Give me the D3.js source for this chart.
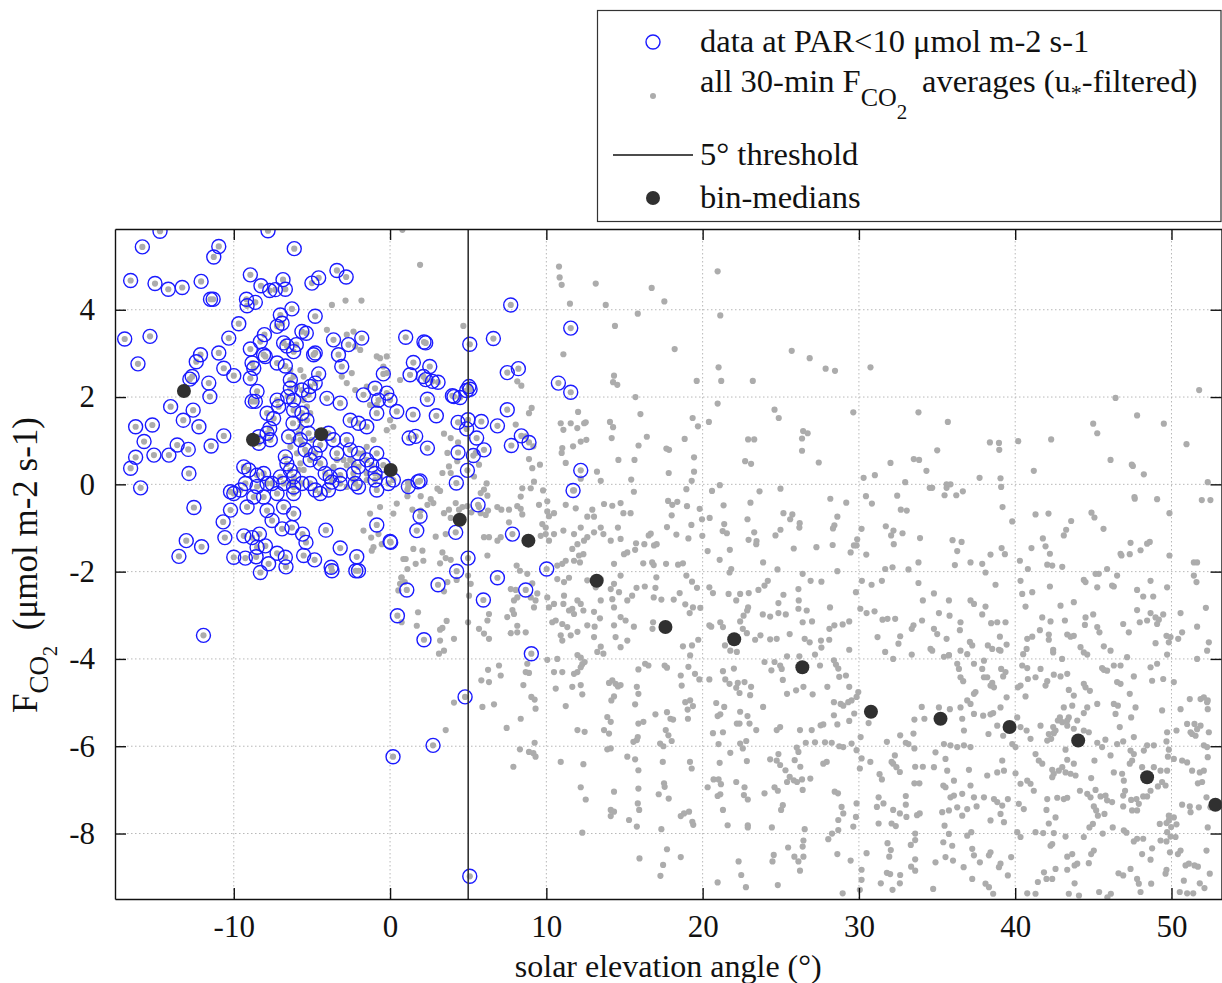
<!DOCTYPE html>
<html><head><meta charset="utf-8">
<script src="https://cdn.jsdelivr.net/npm/d3@7"></script>
<style>html,body{margin:0;padding:0;background:#fff;} svg{display:block;}</style>
</head><body>
<svg id="chart" width="1222" height="983"></svg>
<script>
// ---------------- DATA ----------------
const xTicks = [-10, 0, 10, 20, 30, 40, 50];
const yTicks = [-8, -6, -4, -2, 0, 2, 4];
const xDomain = [-17.6, 53.2];
const yDomain = [-9.5, 5.85];
const thresholdAngle = 5;

// bin medians
const binAngle = [-13.19,-8.77,-4.4,0.04,4.46,8.85,13.22,17.62,22.02,26.38,30.77,35.22,39.64,44.03,48.44,52.81];
const binFlux  = [2.14,1.02,1.15,0.33,-0.81,-1.29,-2.21,-3.27,-3.55,-4.19,-5.21,-5.37,-5.56,-5.87,-6.71,-7.34];

// data at PAR < 10 (blue circles) [angle, flux]
const lowPAR = [
[-14.72,5.8],[-7.81,5.81],[-15.85,5.44],[-10.96,5.45],[-11.28,5.21],[-6.13,5.40],[-16.6,4.67],[-15.04,4.6],[-14.19,4.47],[-13.3,4.51],[-12.09,4.65],[-11.49,4.24],[-11.32,4.24],[-8.94,4.8],[-8.26,4.55],[-7.7,4.44],[-7.34,4.46],[-6.85,4.69],[-6.7,4.47],[-9.19,4.24],[-8.62,4.17],[-9.15,4.09],[-5.0,4.61],[-4.57,4.73],[-3.4,4.9],[-2.81,4.75],
[-9.68,3.68],[-10.32,3.35],[-10.96,3.01],[-12.13,2.97],[-12.4,2.81],[-12.66,2.47],[-12.81,2.41],[-11.6,2.32],[-11.53,2.01],[-10.64,2.66],[-10.0,2.49],[-16.98,3.33],[-15.36,3.39],[-16.13,2.76],[-16.28,1.32],[-15.21,1.36],[-14.04,1.78],[-13.23,1.47],[-12.6,1.7],[-12.23,1.32],[-15.74,0.98],[-15.11,0.67],[-14.15,0.67],[-13.62,0.9],[-12.91,0.8],[-16.28,0.62],[-16.6,0.37],[-12.87,0.25],[-15.96,-0.08],[-11.45,0.88],[-10.64,1.11],[-12.55,-0.53],
[-8.94,3.1],[-8.3,3.27],[-8.09,2.97],[-7.98,2.93],[-8.83,2.78],[-8.72,2.66],[-8.94,2.43],[-8.51,2.13],[-8.62,1.9],[-8.83,1.9],[-8.04,3.43],[-7.23,3.62],[-7.02,3.88],[-6.91,3.69],[-6.28,4.02],[-5.64,3.5],[-5.36,3.46],[-4.79,3.85],[-4.89,2.97],[-4.79,3.01],[-6.81,3.24],[-6.6,3.17],[-6.17,3.04],[-6.0,3.2],[-3.62,3.31],[-3.3,2.97],[-3.09,2.7],[-2.66,3.2],[-1.81,3.35],
[-7.23,2.78],[-6.7,2.71],[-6.38,2.39],[-6.38,2.2],[-6.17,1.93],[-5.64,2.16],[-5.11,2.24],[-4.57,2.53],[-4.79,2.32],[-5.21,2.05],[-4.04,1.97],[-3.19,1.86],[-2.55,1.47],[-2.02,1.4],[-1.7,2.05],[-0.43,2.53],[-0.21,2.09],[0.0,1.93],[0.43,1.67],[-0.85,1.63],[-0.96,2.2],[-0.74,1.93],[-1.49,1.32],
[-7.87,1.63],[-7.45,1.51],[-7.7,1.28],[-7.87,1.17],[-8.4,1.09],[-8.4,0.94],[-7.66,1.02],[-7.23,1.93],[-7.13,1.78],[-6.55,2.01],[-6.17,1.7],[-6.21,1.4],[-6.49,1.09],[-6.7,0.63],[-6.6,0.47],[-6.38,0.32],[-6.17,0.17],
[-5.64,1.63],[-5.32,1.47],[-5.21,1.17],[-5.74,1.02],[-5.43,0.79],[-5.11,0.56],[-4.79,0.71],[-4.47,0.9],[-3.94,1.17],[-3.62,1.02],[-3.4,0.71],[-2.77,1.02],[-2.55,0.79],[-2.02,0.71],
[-4.47,0.48],[-4.15,0.25],[-3.83,0.17],[-3.72,0.05],[-3.19,0.21],[-2.34,0.25],[-2.02,0.4],[-1.49,0.56],[-1.17,0.44],[-0.85,0.71],[-0.43,0.44],[-0.96,0.25],[-0.11,0.02],[0.21,0.1],
[-9.36,0.4],[-9.04,0.33],[-8.51,0.21],[-8.09,0.25],[-7.87,0.02],[-8.51,-0.05],[-9.26,0.02],[-9.57,-0.13],[-10.0,-0.21],[-10.21,-0.17],[-8.72,-0.29],[-8.09,-0.29],[-7.55,0.02],[-7.02,0.17],[-6.81,0.02],[-7.23,-0.21],[-6.17,-0.06],[-6.17,-0.21],[-5.64,0.02],[-5.11,0.02],[-4.79,-0.13],[-4.47,-0.21],[-3.94,-0.13],[-3.19,0.02],[-2.23,0.02],[-2.02,-0.06],[-0.96,0.1],[-0.85,-0.13],
[-10.21,-0.59],[-9.15,-0.52],[-7.87,-0.6],[-6.81,-0.52],[-6.17,-0.67],
[1.0,3.37],[2.17,3.26],[2.28,3.24],[5.1,3.21],[6.61,3.34],[7.72,4.11],[11.56,3.58],[1.49,2.79],[2.54,2.70],[1.28,2.51],[2.13,2.47],[2.28,2.4],[3.07,2.34],[2.71,2.36],[2.39,1.95],[3.99,2.03],[4.09,2.01],[4.48,1.99],[5.05,2.24],[5.12,2.18],[4.9,2.15],[7.5,2.56],[8.21,2.65],[10.77,2.32],[11.56,2.11],
[1.47,1.6],[2.96,1.57],[4.35,1.42],[4.9,1.27],[4.99,1.48],[5.84,1.44],[6.87,1.34],[7.5,1.71],[8.4,1.11],[8.89,0.96],[7.76,0.89],[5.54,1.06],[6.01,0.79],[5.33,0.66],[4.35,0.73],[4.95,0.32],[4.24,0.03],[5.63,-0.47],[1.92,0.08],[1.79,0.06],[1.22,1.06],[1.64,1.1],[1.17,-0.05],[2.39,0.83],[12.2,0.32],[11.71,-0.14],[1.92,-0.73],
[1.71,-1.06],[0.04,-1.33],[4.2,-1.1],[7.83,-1.14],[4.99,-1.69],[4.26,-1.99],[3.07,-2.3],[1.07,-2.42],[6.87,-2.14],[5.97,-2.65],[8.68,-2.42],[10.02,-1.94],[0.47,-3.01],[2.17,-3.56],[9.04,-3.88],[4.8,-4.87],[2.75,-5.98],[0.19,-6.24],[5.1,-8.98],
[-10.68,-0.86],[-13.04,-1.29],[-12.06,-1.43],[-13.51,-1.65],[-10.57,-1.22],[-9.36,-1.18],[-8.83,-1.22],[-8.36,-1.14],[-10.0,-1.67],[-9.26,-1.69],[-8.57,-1.66],[-8.3,-2.02],[-7.77,-1.82],[-7.23,-1.58],[-6.7,-1.67],[-6.66,-1.89],[-7.98,-1.41],[-8.51,-1.44],[-5.6,-1.14],[-5.38,-1.33],[-5.53,-1.63],[-4.83,-1.73],[-6.91,-1.02],[-7.55,-0.83],[-6.28,-0.99],[-4.11,-1.05],[-3.19,-1.46],[-3.77,-1.9],[-3.72,-1.98],[-2.13,-1.66],[-2.02,-1.98],[-2.19,-1.98],[-0.85,-0.93],[0.0,-1.31],[-11.94,-3.46]
];

// all 30-min averages (grey dots) not already in lowPAR [angle, flux]
const allFluxLeft = [
[-3.72,4.11],[-2.85,4.21],[-1.83,4.21],[-4.04,3.54],[-2.77,3.43],[-2.34,3.5],[-2.23,3.16],[-1.91,3.08],[-0.85,2.93],[-0.64,2.89],[-0.21,2.93],[-0.43,2.7],[-0.21,2.55],
[-3.09,2.47],[-2.77,2.32],[-2.45,2.55],[-2.23,2.16],[-1.49,2.24],[-1.28,1.82],[-0.85,1.82],[0.0,1.47],[0.21,1.32],[-0.21,1.24],[-1.06,1.02],[-1.49,0.86],[-1.7,0.71],[-2.34,0.48],[-2.55,0.56],[-2.77,0.44],[-2.98,0.56],[-3.62,0.4],[-3.4,0.56],
[-2.77,-0.06],[-2.34,0.1],[-1.49,0.25],[-1.49,0.1],[-0.64,0.17],[0.43,-0.44],[0.21,-0.67],[-0.64,-0.52],[-1.28,-0.67],
[-5.74,2.62],[-5.96,2.24],[-5.53,1.93],[-5.74,1.47],[-5.74,1.32],[-6.17,1.02],[-5.96,0.71],[-5.74,0.48],[-5.85,0.33],[-6.38,0.02],
[-6.38,2.62],[-6.17,2.47],[-5.53,2.47],[-5.32,1.78],[-5.11,1.63],[-5.85,1.17],[-5.64,0.94],[-6.38,0.86],[-5.32,0.71],[-5.53,0.33],[-6.17,0.1],[-5.0,1.02],[0.64,2.39],
[-1.7,-1.06],[-1.21,-1.22],[-0.74,-1.14],[-1.06,-1.44],[-1.17,-1.52],[-0.53,-1.37],[0.85,-1.71],[0.74,-2.13],[0.64,-2.28],[0.53,-2.43],[0.74,-3.16]
];
const allFluxMid = [
[0.79,5.83],[1.92,5.03],[4.69,3.63],[10.81,4.99],[10.85,4.74],[10.98,4.57],[13.16,4.6],[11.51,4.14],[13.8,4.11],[14.39,3.63],[11.09,2.98],[14.33,2.49],[14.27,2.34],[14.54,2.28],[8.14,2.36],[8.4,2.26],
[12.03,1.66],[12.42,1.40],[12.52,1.42],[11.98,1.29],[10.92,1.40],[11.09,1.25],[11.56,1.40],[14.07,1.43],[14.27,1.31],[14.18,1.06],[14.61,0.56],[9.06,1.75],[8.89,1.63],
[8.04,1.37],[8.68,1.10],[9.17,0.87],[8.89,0.58],[9.1,0.37],[9.59,0.45],[9.79,-0.14],
[11.02,0.83],[10.98,0.72],[11.71,0.87],[11.24,0.49],[12.2,0.98],[12.56,1.02],[13.24,0.29],[13.48,0.08],[13.69,-0.45],[12.94,-0.58],[12.62,-0.74],[13.05,-0.74],[14.22,-0.49],[14.93,-0.66],[15.39,-0.66],[14.75,-0.43],
[12.2,0.13],[11.77,-0.14],[11.24,-0.47],[11.88,-0.55],[10.49,-0.66],[10.06,-0.62],[10.06,-0.39],[10.17,-0.73],[9.53,-0.47],
[8.46,-0.09],[8.36,-0.28],[9.0,-0.09],[9.21,0.06],[7.12,-0.58],[7.61,-0.58],[8.14,-0.5],[8.36,-0.56],[8.46,-0.69],
[6.18,0.02],[6.01,-0.12],[5.8,-0.2],[6.23,-0.26],[6.86,-0.52],[5.8,-0.66],[6.12,-0.7],[6.27,-0.6],[5.69,-0.52],
[4.2,-0.43],[4.63,-0.52],[4.41,-0.58],[4.95,-0.5],[5.2,-0.64],
[3.45,1.16],[3.88,1.06],[4.35,0.96],[3.67,0.72],[3.77,0.41],[4.3,0.53],[3.88,0.26],[3.35,0.26],[3.03,-0.1],[3.2,-0.15],[2.6,-0.34],[2.77,-0.43],[1.96,-0.27],[1.11,-0.27],[1.11,-0.12],[1.15,0.03],[1.43,-0.58],[1.96,-0.6],[2.39,-0.47],[3.45,-0.66],[3.77,-0.58],[3.88,-0.77],
[5.48,0.72],[5.69,0.45],[5.37,0.18],
[2.92,-1.2],[3.56,-1.14],[1.49,-1.48],[2.07,-1.52],[2.13,-1.75],[1.64,-1.82],[1.0,-1.71],[1.11,-1.94],[3.35,-1.56],[3.56,-1.69],[3.2,-1.81],[3.88,-1.73],[3.67,-2.24],[3.45,-2.45],[4.26,-2.19],[0.72,-2.14],[0.94,-2.24],[4.99,-2.09],[5.16,-2.28],[5.05,-2.55],
[6.23,-1.63],[6.01,-1.21],[6.33,-1.21],[6.87,-1.29],[7.08,-1.21],[7.61,-0.87],
[8.1,-1.86],[8.31,-1.98],[8.78,-2.05],[9.1,-2.27],[9.0,-2.59],[9.42,-2.5],[7.72,-2.4],[8.04,-2.42],[8.14,-2.59],[7.93,-2.66],[7.83,-2.88],[7.93,-2.97],[7.5,-3.04],[7.72,-3.41],[8.14,-3.39],[8.68,-3.39],[8.14,-3.24],
[6.33,-2.97],[6.23,-3.12],[5.69,-3.31],[6.01,-3.42],[6.33,-3.54],[1.79,-2.93],[1.71,-3.24],[3.2,-3.33],[3.35,-3.29],[3.2,-3.58],[3.45,-3.81],[3.13,-3.88],[3.62,-3.13],[4.09,-3.54],[4.99,-3.16],
[10.06,-2.59],[10.17,-2.82],[10.49,-2.74],[10.38,-3.16],[10.6,-3.12],[10.92,-3.46],[9.31,-2.66],[9.21,-2.82],
[10.06,-4.02],[10.7,-4.0],[10.49,-4.3],[10.6,-4.68],[11.02,-4.3],[11.24,-5.08],
[8.68,-4.3],[8.89,-4.32],[8.78,-4.11],[8.53,-4.6],[9.04,-4.87],[9.25,-4.93],[9.31,-5.14],[8.36,-5.37],[7.46,-5.58],[6.65,-5.04],[5.91,-5.1],[5.84,-4.49],[6.33,-4.53],[6.27,-4.25],[6.97,-4.15],[7.08,-4.38],
[4.09,-5.0],[3.56,-5.63],[8.31,-6.07],[8.89,-6.13],[9.25,-5.92],[9.31,-6.24],[9.17,-6.16],[7.89,-6.47],
[10.92,-6.36],[11.99,-5.63],[12.45,-5.67],[12.37,-6.41],[12.2,-6.94],[12.52,-7.22],[12.3,-7.98],
[11.66,-4.64],[11.77,-4.34],[11.99,-4.3],[12.2,-4.19],[12.2,-4.6],[12.3,-4.81],
[11.99,-3.91],[12.2,-3.97],[12.3,-4.12],[12.45,-4.07],[11.99,-3.38],[12.62,-3.23],[13.05,-2.92],[13.43,-3.07],[13.09,-3.26],[13.48,-3.72],[13.65,-3.88],[14.01,-4.55],[14.22,-4.49],[14.43,-4.57],[14.58,-4.63],[14.75,-4.6],[14.16,-4.95],[14.33,-4.86],[13.9,-5.33],[14.12,-5.44],[13.69,-5.63],[14.01,-5.71],[14.12,-6.05],[13.9,-6.07],[14.33,-7.04],[14.12,-7.46],[14.12,-7.6],[14.33,-7.5],[15.29,-7.69],[15.18,-6.24],
[11.24,-1.75],[11.77,-1.75],[12.15,-1.79],[12.09,-1.63],[11.66,-1.48],[11.99,-1.37],[12.41,-1.29],[12.62,-1.21],[12.37,-1.6],
[11.02,-1.82],[10.7,-1.86],[10.7,-2.17],[11.13,-2.24],[11.13,-2.55],[11.45,-2.14],
[9.96,-1.14],[9.64,-1.18],[9.96,-0.99],[10.17,-1.29],[9.74,-0.91],[10.49,-1.14],[11.09,-1.06],[11.77,-1.14],[12.2,-0.99],
[13.05,-1.1],[13.48,-0.99],[13.65,-1.14],[14.12,-1.29],[14.58,-0.99],[14.75,-1.25],[14.97,-1.6],[15.18,-1.56],[14.33,-1.82],[14.75,-2.09],[14.33,-2.28],[14.65,-2.47],[14.12,-2.4],[14.22,-2.63],[14.33,-2.82],[15.18,-2.66],[14.75,-3.04],[14.33,-3.23],[14.43,-3.5],[15.07,-3.12],[15.18,-3.58],[14.75,-3.73],
[12.62,-2.2],[13.05,-2.17],[13.48,-2.17],[13.16,-2.36],[13.48,-2.66],[11.99,-2.66],[12.2,-2.74],[12.37,-2.89],[13.05,-3.5],[13.26,-3.84],
[11.09,-2.74],[11.45,-2.89],[11.66,-2.85],[11.77,-2.97],[11.02,-3.2],[11.34,-3.27],[11.56,-3.46],[11.02,-3.58]
];
const allFluxRightA = [
[20.96,4.88],[16.74,4.5],[17.55,4.19],[15.85,3.91],[21.13,3.87],[18.21,3.10],[25.7,3.06],[26.85,2.89],[27.87,2.65],[28.47,2.60],[30.74,2.68],[21.02,2.68],[21.19,2.37],[23.21,2.37],[19.62,2.37],[15.70,2.0],[20.96,1.85],[16.02,1.61],[24.6,1.71],[24.87,1.52],[29.64,1.65],[33.81,1.65],[19.36,1.52],[20.4,1.43],[19.7,1.33],[16.43,1.09],[18.85,1.04],[22.91,1.03],[23.3,1.03],[26.43,1.22],[26.72,1.17],[26.36,1.05],[26.36,0.77],[15.9,0.89],[17.68,0.82],[17.85,0.79],[15.64,0.56],[19.45,0.62],[22.72,0.53],[23.1,0.47],[27.43,0.50],[32.02,0.49],[33.51,0.58],[33.85,0.56],[34.32,0.31],[17.83,0.26],[19.45,0.29],[19.3,0.08],[15.43,0.11],[30.3,0.15],[31.02,0.21],[32.96,0.05],
[15.6,-0.17],[18.96,-0.11],[20.6,-0.15],[21.1,-0.02],[23.64,-0.16],[24.98,-0.1],[34.53,-0.08],[17.79,-0.38],[18.06,-0.47],[18.38,-0.40],[19.0,-0.5],[19.81,-0.56],[21.34,-0.48],[23.06,-0.42],[28.17,-0.33],[29.19,-0.42],[30.45,-0.27],[30.83,-0.44],[32.45,-0.26],[32.68,-0.58],[33.06,-0.60],[18.02,-0.71],[19.96,-0.80],[20.45,-0.77],[22.87,-0.80],[25.17,-0.66],[25.74,-0.69],[25.6,-0.80],[26.21,-0.89],[26.19,-0.99],[28.62,-0.74],[28.43,-0.94],[28.34,-1.01],[17.72,-0.98],[19.28,-0.93],[21.38,-0.91],[21.28,-1.07],[21.55,-1.12],[23.3,-1.10],[24.98,-1.04],[24.66,-1.17],[30.17,-1.02],[31.72,-0.96],[32.21,-1.06],[32.06,-1.17],[32.79,-1.12],[33.91,-1.23],[16.55,-1.17],[16.68,-1.13],[18.32,-1.15],[19.09,-1.24],[19.98,-1.18],[22.94,-1.27],[23.45,-1.30],[23.43,-1.37],[15.74,-1.35],[16.27,-1.37],[16.89,-1.40],[17.06,-1.37],[29.89,-1.26],[29.85,-1.40],[29.68,-1.40],[28.32,-1.39],[27.28,-1.44],[25.83,-1.47],[32.23,-1.37],[20.32,-1.53],[21.74,-1.50],[15.68,-1.50],[29.47,-1.56],[30.47,-1.61]
];
const allFluxRightB = [
[16.2,-1.81],[16.77,-1.79],[16.87,-1.85],[17.66,-1.82],[18.43,-1.84],[18.74,-1.81],[21.09,-1.73],[21.72,-2.02],[21.83,-1.94],[23.87,-1.79],[24.79,-1.95],[26.4,-2.05],[26.91,-2.21],[27.6,-2.23],[28.62,-1.99],[31.68,-1.94],[32.15,-1.9],[33.17,-1.95],[33.81,-1.79],[30.19,-2.21],[30.81,-2.30],[31.47,-2.21],[33.81,-2.26],[15.49,-2.55],[15.77,-2.37],[16.3,-2.34],[17.04,-2.13],[16.98,-2.37],[16.87,-2.59],[17.36,-2.64],[18.15,-2.64],[18.53,-2.49],[18.96,-2.09],[19.32,-2.23],[19.64,-2.37],[18.89,-2.75],[19.38,-2.82],[19.17,-2.95],[19.85,-2.83],[15.6,-3.26],[16.83,-3.16],[16.79,-3.31],
[18.74,-3.71],[19.32,-3.69],[19.2,-3.92],[19.72,-3.56],[20.43,-2.36],[20.66,-2.49],[20.55,-3.26],[20.43,-3.23],[21.13,-3.16],[21.3,-3.27],[21.66,-2.51],[22.15,-2.66],[22.4,-2.51],[22.95,-2.49],[23.57,-2.42],[23.96,-2.32],[24.17,-2.21],[22.62,-3.01],[22.85,-2.89],[22.91,-2.82],[22.4,-3.14],[22.57,-3.31],[22.83,-3.41],[23.36,-3.56],[21.43,-3.69],[21.77,-3.81],[22.19,-3.84],[23.85,-2.98],[24.32,-3.03],[24.85,-2.95],[25.32,-2.98],[24.85,-2.72],[25.17,-2.53],[26.13,-2.40],[26.15,-2.66],[26.13,-2.85],[26.66,-2.89],[26.4,-3.16],[27.0,-3.14],[27.57,-3.58],[28.1,-3.56],[28.15,-2.82],[28.43,-3.23],[28.96,-3.21],[29.38,-3.14],[28.11,-3.31],[29.38,-3.79],[29.81,-2.47],[30.09,-2.85],[30.49,-2.95],[31.0,-2.91],[31.51,-3.1],[31.83,-3.08],[32.32,-3.08],[31.19,-3.5],[32.64,-3.48],[32.53,-3.65],[33.49,-3.23],[33.38,-3.31],[34.04,-3.12],[31.68,-3.84],[32.19,-4.0],[33.38,-3.9],[34.09,-2.66],[24.32,-3.55],[24.74,-3.54],[25.57,-3.43],[26.53,-3.54],[26.85,-3.62],[27.6,-3.74],[27.19,-3.9],[26.19,-3.94],[25.4,-3.94],[23.7,-3.46],[23.96,-4.07],[24.6,-4.07],[24.96,-4.15],[25.06,-4.23],[24.4,-4.26],[25.13,-4.48],[25.4,-4.8],[25.98,-4.72],[26.45,-4.64],
[27.04,-4.81],[27.51,-4.15],[27.98,-4.64],[28.4,-4.03],[28.53,-4.13],[28.68,-4.22],[28.74,-4.41],[29.17,-4.38],[29.38,-4.64],[28.4,-4.99],[28.83,-5.03],[29.0,-5.07],[29.32,-4.99],[29.53,-4.95],[29.85,-4.87],[29.96,-4.76],[29.38,-5.42],[29.7,-5.25],[28.4,-5.29],[28.62,-5.5],[27.72,-5.5],[27.55,-5.52],[26.98,-5.63],[26.23,-5.63],[26.6,-5.92],[27.19,-5.91],[27.83,-5.91],[28.26,-5.92],[28.74,-6.0],[29.0,-6.02],[29.53,-5.94],[29.85,-6.09],[30.11,-5.79],[30.17,-6.28],[30.06,-6.51],[30.62,-5.47],[30.73,-6.36],[31.32,-6.64],[31.47,-6.76],[31.26,-7.17],[31.57,-7.31],[31.15,-7.39],[32.19,-6.40],[32.4,-6.48],[32.62,-6.59],[32.09,-6.36],[32.3,-6.21],[31.79,-5.9],[32.64,-5.75],[33.0,-5.92],[33.17,-5.95],[33.49,-5.71],[33.55,-6.05],[34.02,-5.1],[33.55,-5.39],[34.19,-5.37],[33.6,-6.47],[34.09,-6.47],[33.55,-6.85],[33.87,-6.85],[33.0,-7.14],[33.0,-7.34],[32.62,-7.54],[33.04,-7.62],[33.72,-7.58],[33.89,-7.54],[32.19,-7.46],[32.09,-7.77],[32.36,-7.83],[31.26,-7.77],[33.6,-8.0],[33.32,-8.26],[33.6,-8.15],[33.6,-8.59],[33.34,-8.76],[33.6,-8.85],[32.62,-9.14],[31.83,-8.22],[32.04,-8.38],[31.94,-8.53],[31.79,-8.9],[32.0,-8.93],[32.64,-8.95],[32.15,-9.29],[31.4,-9.14],[30.17,-9.06],[30.06,-9.29],[30.49,-8.45],[30.17,-8.83],[28.96,-9.37],[28.28,-8.0],[28.68,-7.92],[28.04,-8.13],[28.62,-8.47],[29.47,-8.62],[26.45,-8.16],[26.4,-8.3],[26.45,-8.53],[26.23,-8.85],[26.13,-8.64],[25.87,-8.53],[26.53,-7.9],[25.47,-8.32],[24.55,-8.49],[24.47,-8.64],[24.81,-9.18],[22.47,-8.95],[22.77,-9.23],[22.3,-8.64],[20.96,-9.12],[22.89,-7.81],[22.89,-7.86],[21.6,-7.81],[24.43,-7.86],[21.3,-7.46],
[20.32,-6.94],[20.7,-6.76],[21.02,-6.76],[21.17,-6.87],[20.96,-7.14],[21.13,-7.1],[22.15,-6.82],[22.68,-6.94],[22.64,-7.12],[22.89,-7.22],[23.96,-7.08],[24.6,-6.94],[24.81,-7.02],[25.13,-7.35],[25.02,-7.46],[25.3,-6.55],[25.57,-6.7],[25.4,-6.82],[25.83,-6.78],[26.04,-6.82],[26.36,-6.76],[26.89,-6.74],[25.89,-6.32],[26.25,-6.47],[26.13,-6.13],[24.32,-6.3],[24.74,-6.33],[24.85,-6.18],[24.96,-6.43],[26.02,-6.03],[26.4,-7.0],[28.45,-7.04],[28.66,-7.08],[27.72,-6.4],[27.94,-6.36],[28.89,-7.39],[29.0,-7.54],[28.68,-7.69],[29.85,-7.31],[29.81,-7.62],[29.64,-7.84],
[23.87,-5.1],[24.74,-5.63],[24.96,-5.56],[23.43,-5.63],[23.0,-5.48],[22.4,-5.21],[22.87,-5.31],[22.36,-5.48],[22.19,-5.48],[20.66,-5.7],[21.3,-5.68],[20.96,-5.31],[21.38,-5.1],[20.87,-5.01],[21.13,-5.27],[22.25,-4.55],[22.68,-4.53],[23.1,-4.64],[23.04,-4.83],[22.36,-4.78],[21.02,-5.95],[21.77,-6.15],[22.4,-5.94],[22.57,-6.05],[22.79,-5.88],[22.83,-6.34],[21.09,-6.38],[20.43,-4.47],[21.45,-4.47],[21.3,-4.28],[22.0,-4.22],[21.72,-4.57],[22.15,-4.66],[19.79,-4.47],[19.51,-4.34],[19.09,-4.18],[18.66,-4.61],[18.6,-4.38],[18.89,-4.99],[19.2,-4.95],[19.38,-5.08],[19.04,-5.16],[19.06,-5.37],[16.98,-5.27],[17.72,-5.22],[17.94,-5.37],[18.11,-5.39],[15.89,-5.48],[16.21,-5.44],[15.79,-5.86],[15.57,-5.9],[15.85,-5.79],[17.28,-5.94],[17.49,-6.0],[17.64,-5.63],[17.81,-5.75],[18.02,-5.88],[15.79,-4.64],[15.89,-4.8],[15.68,-5.04],[16.32,-4.11],[16.53,-4.15],[15.89,-4.24],[17.57,-4.15],[17.72,-4.2],[15.68,-6.3],[15.89,-6.55],[17.45,-6.36],[19.19,-6.36],[19.3,-6.51],[15.89,-6.97],[15.85,-7.31],[15.94,-7.46],[15.79,-7.84],[17.19,-7.1],[17.53,-6.85],[17.57,-6.93],[17.83,-7.2],[18.6,-7.6],[18.81,-7.54],[19.13,-7.5],[19.34,-7.73],[19.4,-7.8],[17.36,-7.9],[15.96,-8.57],[17.72,-8.36],[17.47,-8.72],[17.3,-8.97],[18.6,-8.54]
];
const allFluxRightC = [
[35.69,1.43],[35.01,0.78],[38.38,0.96],[38.96,0.95],[38.98,0.79],[40.19,0.99],[42.3,1.03],[41.19,0.31],[37.72,0.15],[39.06,0.14],[39.1,-0.06],[34.69,-0.08],[35.61,0.0],[35.61,-0.08],[35.86,0.0],[35.48,-0.25],[36.23,-0.25],[36.65,-0.16],[39.19,-0.52],[39.81,-0.85],[35.99,-1.28],[36.57,-1.32],[36.29,-1.53],[39.13,-1.46],[39.34,-1.6],[38.42,-1.61],[46.42,1.98],[44.99,1.39],[45.25,1.17],[47.8,1.58],[49.51,1.39],[51.77,2.16],[50.96,0.92],[46.1,0.56],[47.46,0.45],[47.53,0.42],[48.23,0.23],[52.32,0.05],[51.94,-0.36],[52.49,-0.36],[47.63,-0.29],[47.65,-0.33],[49.08,-0.34],[49.87,-0.66],[41.3,-0.69],[42.13,-0.67],[43.58,-0.84],[43.26,-1.04],[43.11,-1.17],[44.88,-0.65],[45.07,-0.76],[45.65,-1.02],[41.77,-1.24],[41.94,-1.42],[41.04,-1.46],[42.22,-1.59],[46.74,-1.59],[46.8,-1.63],[47.33,-1.6],[47.38,-1.34],[48.02,-1.51],[48.44,-1.36],[48.61,-1.32],[49.87,-1.63],
[36.14,-1.85],[37.14,-1.79],[37.89,-1.82],[38.1,-2.02],[40.3,-1.75],[40.81,-1.94],[42.05,-1.84],[42.37,-1.86],[43.01,-1.89],[45.14,-2.05],[45.35,-2.05],[44.39,-2.19],[44.5,-2.24],[45.88,-1.94],[46.52,-2.09],[46.2,-2.32],[45.25,-2.36],[47.8,-2.42],[48.19,-2.57],[48.83,-2.57],[48.66,-2.21],[49.72,-2.36],[51.43,-1.79],[51.64,-1.79],[51.43,-2.09],[51.6,-2.24],[52.2,-2.83],[51.64,-3.26],[52.39,-3.62],[52.28,-3.81],[50.58,-2.95],[38.74,-2.3],[37.14,-2.66],[37.36,-2.74],[37.89,-2.98],[38.1,-2.8],[35.76,-2.66],[35.8,-3.01],[36.5,-3.16],[36.46,-3.34],[35.12,-2.95],[34.8,-3.31],[35.01,-3.43],[35.61,-3.54],[34.69,-3.81],[34.58,-3.77],[40.66,-2.8],[40.45,-2.51],[40.34,-2.21],[41.09,-2.47],
[38.46,-3.18],[38.85,-3.16],[39.38,-3.16],[39.02,-3.49],[39.45,-3.67],[38.96,-3.79],[38.25,-3.69],[37.25,-3.69],[37.1,-3.61],[36.5,-3.81],[35.76,-3.91],[40.77,-3.54],[41.09,-3.49],[41.58,-3.34],[42.15,-3.44],[42.15,-3.56],[42.43,-3.79],[42.43,-3.85],[43.0,-4.0],[42.22,-2.34],[42.9,-2.78],[43.75,-2.7],[41.73,-3.05],[42.26,-3.14],[43.18,-3.12],[43.33,-3.44],[43.54,-3.49],[43.75,-3.47],[44.5,-3.05],[44.99,-2.98],[44.46,-3.22],[45.39,-3.39],[45.25,-3.27],[45.67,-3.71],[46.1,-3.81],[44.18,-3.73],[44.39,-3.85],[44.61,-3.9],[46.31,-2.34],[46.91,-3.2],[47.97,-3.16],[48.44,-3.12],[48.98,-3.05],[49.47,-2.98],[49.19,-3.1],[49.08,-3.2],[47.8,-2.88],[48.66,-2.95],[47.27,-3.39],[48.98,-3.64],[49.94,-3.5],[49.83,-3.62],[49.72,-3.9],[50.43,-3.54],[50.68,-3.39],[49.68,-3.47],
[47.16,-3.96],[48.76,-4.5],[48.66,-4.19],[49.08,-4.11],[49.47,-4.46],[50.15,-4.53],[47.59,-4.4],[46.74,-4.15],[46.31,-4.15],[45.88,-4.27],[45.67,-4.25],[45.56,-4.21],[46.52,-4.53],[46.74,-4.57],[51.64,-4.0],[51.86,-4.92],[52.07,-4.88],[52.28,-4.99],[52.32,-4.95],[52.32,-5.15],[51.17,-4.92],[50.58,-5.15],[51.0,-5.49],[51.47,-5.49],[51.86,-5.53],[51.22,-5.68],[51.32,-5.72],[51.64,-5.61],[51.54,-5.76],[52.39,-5.68],[52.07,-5.98],[52.28,-6.02],[52.32,-6.25],
[50.32,-5.64],[49.72,-5.68],[49.68,-5.89],[49.83,-6.08],[49.77,-6.24],[49.72,-6.56],[49.62,-6.9],[49.4,-6.82],[50.15,-6.29],[50.68,-6.33],[51.0,-6.37],[51.32,-6.56],[51.81,-6.6],[52.07,-6.56],[51.96,-6.82],[51.69,-6.85],[52.24,-7.17],[52.49,-7.4],[52.32,-7.86],[50.68,-7.34],[51.17,-7.38],[51.22,-7.51],[51.75,-7.4],[49.83,-7.59],[50.15,-7.63],[49.83,-7.7],[50.32,-7.79],[49.98,-7.85],[49.68,-7.76],[49.25,-7.78],[49.72,-7.97],
[49.3,-8.16],[49.68,-8.18],[49.94,-8.07],[50.26,-8.08],[49.9,-8.43],[50.41,-8.47],[50.58,-8.39],[50.9,-8.73],[51.11,-8.69],[51.47,-8.73],[51.69,-8.76],[52.24,-8.39],[52.45,-8.92],[51.81,-9.14],[52.11,-9.25],[50.79,-9.08],[50.53,-9.34],[51.39,-9.37],[51.0,-9.37],[49.62,-8.92],[49.68,-8.83],[48.7,-9.15],[48.66,-8.6]
];
const allFluxRightD = [
[48.23,-6.1],[48.44,-5.98],[48.87,-5.98],[47.38,-6.1],[47.59,-6.18],[47.48,-6.33],[47.33,-6.4],[48.12,-6.48],[48.87,-6.48],[49.3,-6.56],[49.13,-6.92],[48.66,-7.02],
[46.95,-6.79],[46.84,-6.63],[46.31,-6.6],[46.1,-6.21],[45.56,-6.02],[45.77,-5.85],[45.25,-5.92],[44.71,-5.68],[44.39,-5.64],[43.75,-5.6],[43.33,-5.53],[42.58,-5.64],[42.73,-5.41],[43.01,-5.45],[42.43,-5.56],[42.15,-5.72],[42.05,-5.87],[42.3,-5.83],[42.47,-5.7],[46.52,-5.95],[46.91,-5.89],[46.69,-5.56],[47.59,-5.79],
[47.7,-5.11],[47.33,-4.8],[46.57,-5.07],[46.31,-5.03],[46.42,-5.26],[47.42,-5.34],[49.4,-5.18],[45.25,-5.03],[44.61,-5.11],[44.39,-5.24],[43.65,-5.07],[43.11,-5.11],[43.43,-5.34],[43.33,-5.41],[43.97,-5.41],[42.86,-5.34],[43.43,-4.71],[43.75,-4.84],[44.39,-4.57],[44.5,-4.65],[44.78,-4.73],
[43.33,-4.34],[42.9,-4.4],[42.47,-4.36],[42.05,-4.51],[41.94,-4.61],[41.62,-4.23],[41.3,-4.42],[40.81,-4.46],[40.77,-4.21],[40.45,-4.15],[40.51,-3.89],[40.73,-3.77],[40.34,-4.61],[40.17,-4.65],[40.66,-4.86],
[40.13,-5.34],[40.34,-5.56],[40.73,-5.64],[40.98,-5.83],[41.62,-5.53],[41.3,-6.18],[41.51,-6.33],[41.73,-6.4],[40.77,-6.79],[41.19,-7.02],[40.98,-6.86],[42.05,-7.21],[42.0,-7.46],[42.58,-7.63],[42.15,-7.77],[42.69,-7.18],[43.11,-7.21],[43.33,-7.18],
[43.01,-6.48],[43.22,-6.6],[43.54,-6.63],[43.33,-6.31],[43.75,-6.4],[43.86,-6.67],[43.22,-6.08],[42.79,-6.56],[42.47,-6.63],[42.37,-6.71],[42.37,-6.54],[44.14,-7.02],[44.61,-7.09],[44.82,-7.17],[45.07,-6.33],[44.86,-6.73],[45.14,-7.0],[45.46,-7.15],[45.78,-7.13],[45.88,-7.24],[46.2,-7.28],[45.03,-7.38],[45.18,-7.47],[45.71,-7.55],[44.75,-7.86],[44.97,-7.78],[45.29,-7.59],[45.6,-8.0],[46.24,-7.86],
[46.91,-7.38],[47.48,-7.47],[47.8,-7.47],[47.91,-7.32],[47.03,-7.02],[46.91,-7.13],[47.42,-7.23],[47.76,-7.21],[48.19,-7.15],[48.44,-7.15],
[46.95,-7.93],[47.12,-7.98],[47.8,-8.12],[47.59,-8.18],[48.19,-8.12],[48.12,-8.47],[48.76,-8.34],[47.38,-8.81],[47.8,-9.04],[47.91,-9.15],[48.02,-9.34],[46.91,-8.96],[46.61,-8.91],[46.12,-9.38],[45.9,-9.46],[45.37,-9.34],[44.08,-9.42],[43.43,-9.38],[43.8,-9.14],[43.33,-8.83],[42.58,-8.81],[42.37,-9.04],[42.0,-9.04],[41.84,-8.89],[41.45,-9.11],[40.77,-9.37],[41.3,-9.38],[42.26,-8.28],[42.37,-8.24],[43.33,-8.53],[43.65,-8.47],[43.8,-8.73],[43.97,-8.69],[44.71,-8.68],[44.86,-8.47],[45.03,-8.39],[44.39,-8.08],[43.22,-8.07],[42.47,-7.99],[41.3,-7.97],[41.79,-7.99],[40.13,-7.97],[39.74,-8.54],[40.34,-8.08],
[34.8,-2.5],[35.44,-3.95],[35.76,-3.92],[36.29,-4.11],[36.4,-4.23],[36.5,-4.42],[36.67,-4.51],[36.93,-3.89],[37.36,-4.11],[38.0,-4.42],[38.42,-4.61],[38.64,-4.65],[37.36,-4.8],[37.46,-4.76],[36.93,-4.95],[37.14,-5.03],[36.5,-5.11],[35.82,-5.15],[35.12,-5.11],[36.61,-5.37],[36.72,-5.64],[37.36,-5.26],[37.95,-5.3],[38.42,-5.27],[38.59,-5.24],[39.06,-5.11],[39.45,-4.88],[38.29,-5.72],[38.85,-5.53],[39.23,-5.76],
[39.1,-4.23],[39.23,-4.4],[39.38,-4.3],[38.53,-4.55],[38.21,-4.42],[37.89,-4.23],[38.0,-4.04],[38.53,-3.77],[39.06,-3.81],
[35.44,-5.95],[35.86,-5.98],[36.29,-6.02],[36.72,-5.98],[37.14,-6.02],[34.9,-6.14],[35.54,-6.29],[35.65,-6.56],[34.8,-6.48],[37.04,-6.54],[38.21,-6.67],[38.85,-6.6],[39.17,-6.33],[39.28,-6.56],[35.4,-6.9],[35.54,-6.94],[36.08,-6.79],[35.86,-7.17],[36.08,-7.13],[36.61,-7.09],[37.36,-7.17],[37.14,-6.9],[38.0,-7.17],[38.64,-7.21],[38.85,-7.28],[39.17,-7.36],[39.53,-7.21],[39.06,-7.55],[39.28,-7.74],[38.42,-7.7],[37.53,-7.38],[36.93,-7.44],[36.29,-7.4],[35.76,-7.47],[35.33,-7.51],[35.48,-7.82],[36.61,-7.59],[37.19,-7.97],[36.93,-8.05],[35.76,-8.01],[35.4,-8.2],[35.97,-8.28],[34.9,-8.66],[35.54,-8.54],[36.02,-8.62],[36.7,-8.77],[37.25,-8.35],[37.36,-8.5],[37.74,-8.66],[38.32,-8.5],[38.42,-8.43],[39.06,-8.69],[38.96,-8.77],[39.53,-8.96],[37.25,-9.04],[38.1,-9.15],[38.32,-9.23],[38.59,-9.38],[34.75,-9.27],
[39.81,-5.95],[40.02,-6.02],[40.02,-6.62],[40.34,-6.86],[40.23,-7.32],[40.55,-7.44]
];

// ---------------- CHART ----------------
const svg = d3.select('#chart');
const FONT = "'Liberation Serif','Times New Roman',serif";
const plot = {left: 115, right: 1221.5, top: 229, bottom: 899};

const x = d3.scaleLinear().domain(xDomain).range([plot.left, plot.right]);
const y = d3.scaleLinear().domain(yDomain).range([plot.bottom, plot.top]);

svg.append('rect').attr('width',1222).attr('height',983).attr('fill','#fff');

svg.append('defs').append('clipPath').attr('id','clip')
  .append('rect').attr('x',plot.left).attr('y',plot.top)
  .attr('width',plot.right-plot.left).attr('height',plot.bottom-plot.top);

// grid
const grid = svg.append('g');
grid.selectAll('line.gx').data(xTicks).join('line')
  .attr('x1',d=>x(d)).attr('x2',d=>x(d)).attr('y1',plot.top).attr('y2',plot.bottom)
  .attr('stroke','#b8b8b8').attr('stroke-width',1).attr('stroke-dasharray','1.5,2.5');
grid.selectAll('line.gy').data(yTicks).join('line')
  .attr('y1',d=>y(d)).attr('y2',d=>y(d)).attr('x1',plot.left).attr('x2',plot.right)
  .attr('stroke','#b8b8b8').attr('stroke-width',1).attr('stroke-dasharray','1.5,2.5');

const pts = svg.append('g').attr('clip-path','url(#clip)');
const greyAll = [].concat(allFluxLeft, allFluxMid, allFluxRightA, allFluxRightB, allFluxRightC, allFluxRightD, lowPAR);
pts.selectAll('circle.grey').data(greyAll).join('circle')
  .attr('cx',d=>x(d[0])).attr('cy',d=>y(d[1])).attr('r',3.1).attr('fill','#acacac');

pts.selectAll('circle.blue').data(lowPAR).join('circle')
  .attr('cx',d=>x(d[0])).attr('cy',d=>y(d[1])).attr('r',7)
  .attr('fill','none').attr('stroke','#1a1aff').attr('stroke-width',1.4);

// threshold line
svg.append('line').attr('x1',x(thresholdAngle)).attr('x2',x(thresholdAngle))
  .attr('y1',plot.top).attr('y2',plot.bottom).attr('stroke','#333').attr('stroke-width',1.6);

// bin medians
const medians = binAngle.map((a,i)=>[a,binFlux[i]]);
pts.selectAll('circle.med').data(medians).join('circle')
  .attr('cx',d=>x(d[0])).attr('cy',d=>y(d[1])).attr('r',7).attr('fill','#303030');

// axes
const axG = svg.append('g').attr('font-family',FONT);
const tickLen = 11;
const axBottom = d3.axisBottom(x).tickValues(xTicks).tickSizeInner(-tickLen).tickSizeOuter(0).tickPadding(16).tickFormat(d3.format('d'));
const axTop = d3.axisTop(x).tickValues(xTicks).tickSizeInner(-tickLen).tickSizeOuter(0).tickFormat('');
const axLeft = d3.axisLeft(y).tickValues(yTicks).tickSizeInner(-tickLen).tickSizeOuter(0).tickPadding(20).tickFormat(d3.format('d'));
const axRight = d3.axisRight(y).tickValues(yTicks).tickSizeInner(-tickLen).tickSizeOuter(0).tickFormat('');

function style(g){
  g.select('.domain').attr('stroke','#111').attr('stroke-width',1.4);
  g.selectAll('.tick line').attr('stroke','#111').attr('stroke-width',1.4);
  g.selectAll('.tick text').attr('fill','#111').attr('font-size',31).attr('font-family',FONT);
}
axG.append('g').attr('transform',`translate(0,${plot.bottom})`).call(axBottom).call(style);
axG.append('g').attr('transform',`translate(0,${plot.top})`).call(axTop).call(style);
axG.append('g').attr('transform',`translate(${plot.left},0)`).call(axLeft).call(style);
axG.append('g').attr('transform',`translate(${plot.right},0)`).call(axRight).call(style);
axG.selectAll('.tick text').text(function(){ return this.textContent.replace('\u2212','-'); });

// axis titles
svg.append('text').attr('x',(plot.left+plot.right)/2).attr('y',977)
  .attr('text-anchor','middle').attr('font-family',FONT).attr('font-size',32).attr('fill','#111')
  .text('solar elevation angle (\u00b0)');

const yl = svg.append('text').attr('transform','translate(37,565) rotate(-90)')
  .attr('text-anchor','middle').attr('font-family',FONT).attr('font-size',35).attr('fill','#111');
yl.append('tspan').text('F');
yl.append('tspan').attr('font-size',27).attr('dy',11).text('CO');
yl.append('tspan').attr('font-size',20).attr('dy',9).text('2');
yl.append('tspan').attr('dy',-20).text('\u2009 (\u03bcmol m-2 s-1)');

// legend
const lg = svg.append('g').attr('font-family',FONT).attr('fill','#111');
lg.append('rect').attr('x',597.5).attr('y',10.5).attr('width',623.5).attr('height',211)
  .attr('fill','#fff').attr('stroke','#333').attr('stroke-width',1.2);
lg.append('circle').attr('cx',653).attr('cy',42).attr('r',7).attr('fill','none').attr('stroke','#1a1aff').attr('stroke-width',1.4);
lg.append('circle').attr('cx',653).attr('cy',96).attr('r',3).attr('fill','#acacac');
lg.append('line').attr('x1',613).attr('x2',693).attr('y1',155).attr('y2',155).attr('stroke','#111').attr('stroke-width',1.3);
lg.append('circle').attr('cx',653).attr('cy',198).attr('r',7).attr('fill','#303030');

const ls = 32.5;
lg.append('text').attr('x',700).attr('y',52).attr('font-size',ls).text('data at PAR<10 \u03bcmol m-2 s-1');
const t2 = lg.append('text').attr('x',700).attr('y',92).attr('font-size',ls);
t2.append('tspan').text('all 30-min F');
t2.append('tspan').attr('font-size',26).attr('dy',14).text('CO');
t2.append('tspan').attr('font-size',21).attr('dy',13).text('2');
t2.append('tspan').attr('dy',-27).text('\u2009 averages (u');
t2.append('tspan').attr('font-size',22).attr('dy',8).text('*');
t2.append('tspan').attr('dy',-8).text('-filtered)');
lg.append('text').attr('x',700).attr('y',165).attr('font-size',ls).text('5\u00b0 threshold');
lg.append('text').attr('x',700).attr('y',208).attr('font-size',ls).text('bin-medians');
</script>
</body></html>
